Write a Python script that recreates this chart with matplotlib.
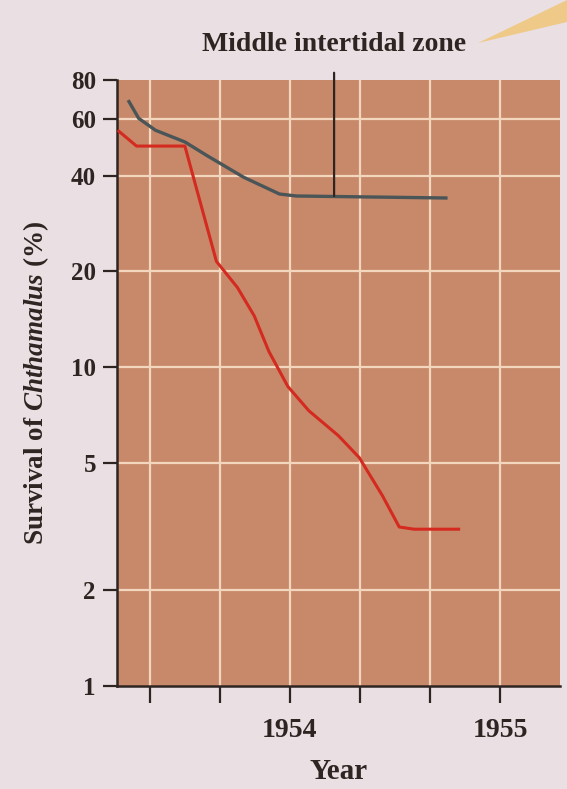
import matplotlib.pyplot as plt
from matplotlib.patches import Polygon

# ================= DATA =================

middle_years = [1953.23, 1953.28, 1953.36, 1953.50, 1953.61, 1953.78, 1953.95, 1954.03, 1954.75]
middle_surv = [69, 60.5, 55.5, 51, 46, 39.5, 35, 34.5, 34]

other_years = [1953.18, 1953.27, 1953.50, 1953.65, 1953.75, 1953.83, 1953.90, 1953.99,
               1954.09, 1954.23, 1954.33, 1954.44, 1954.52, 1954.59, 1954.81]
other_surv = [55.5, 49.5, 49.5, 21.5, 17.8, 14.5, 11.2, 8.7,
              7.3, 6.1, 5.2, 3.95, 3.15, 3.1, 3.1]

x_ticks = [1953.333, 1953.667, 1954.0, 1954.333, 1954.667, 1955.0]
x_labels = ["", "", "1954", "", "", "1955"]
y_ticks = [1, 2, 5, 10, 20, 40, 60, 80]
y_grid = [2, 5, 10, 20, 40, 60]

annot_x = 1954.21
annot_y = 34.5

# ================= STYLE =================

plt.rcParams["font.family"] = ["Liberation Serif", "DejaVu Serif"]
plt.rcParams["font.weight"] = "bold"
plt.rcParams["mathtext.fontset"] = "custom"
plt.rcParams["mathtext.rm"] = "Liberation Serif:bold"
plt.rcParams["mathtext.it"] = "Liberation Serif:italic:bold"

page = "#eae0e3"
face = "#c8886a"
grid_col = "#f2d6bd"
ink = "#2e2522"

fig = plt.figure(figsize=(5.67, 7.89), dpi=100)
fig.patch.set_facecolor(page)

ax = fig.add_axes([0.206, 0.131, 0.782, 0.768])
ax.set_facecolor(face)
ax.set_yscale("log")
ax.set_xlim(1953.176, 1955.286)
ax.set_ylim(1, 80)

for v in y_grid:
    ax.axhline(v, color=grid_col, lw=1.6, zorder=1)
for v in x_ticks:
    ax.axvline(v, color=grid_col, lw=1.6, zorder=1)

# ================= LINES =================

ax.plot(middle_years, middle_surv, color="#4a5558", lw=2.4, zorder=3,
        solid_capstyle="butt")
ax.plot(other_years, other_surv, color="#d42a1f", lw=2.2, zorder=3,
        solid_capstyle="butt")

ax.annotate(
    "Middle intertidal zone",
    xy=(annot_x, annot_y),
    xytext=(annot_x, 0.943),
    textcoords=("data", "figure fraction"),
    ha="center",
    va="center",
    fontsize=20,
    fontweight="bold",
    color=ink,
    arrowprops=dict(arrowstyle="-", color=ink, lw=1.6, shrinkA=9, shrinkB=0),
    annotation_clip=False,
)

# ================= AXES =================

ax.spines["top"].set_visible(False)
ax.spines["right"].set_visible(False)
for s in ["left", "bottom"]:
    ax.spines[s].set_color(ink)
    ax.spines[s].set_linewidth(1.8)

ax.set_yticks(y_ticks)
ax.set_yticklabels([str(v) for v in y_ticks])
ax.yaxis.set_minor_locator(plt.NullLocator())
ax.set_xticks(x_ticks)
ax.set_xticklabels(x_labels)

ax.tick_params(axis="both", direction="out", width=1.6,
               color=ink, labelcolor=ink)
ax.tick_params(axis="y", length=10, pad=5, labelsize=18)
ax.tick_params(axis="x", length=12, pad=11, labelsize=20)

ax.set_xlabel("Year", fontsize=21, fontweight="bold", color=ink, labelpad=11)
ax.set_ylabel(r"Survival of $\it{Chthamalus}$ (%)", fontsize=19.5,
              fontweight="bold", color=ink, labelpad=14)

# callout wedge at the top right of the page
wedge = Polygon([(478 / 567, 1 - 43 / 789), (1.0, 1.0), (1.0, 1 - 22 / 789)],
                closed=True, transform=fig.transFigure, facecolor="#efc987",
                edgecolor="none")
fig.patches.append(wedge)

fig.savefig("out.png", dpi=100, facecolor=page)
